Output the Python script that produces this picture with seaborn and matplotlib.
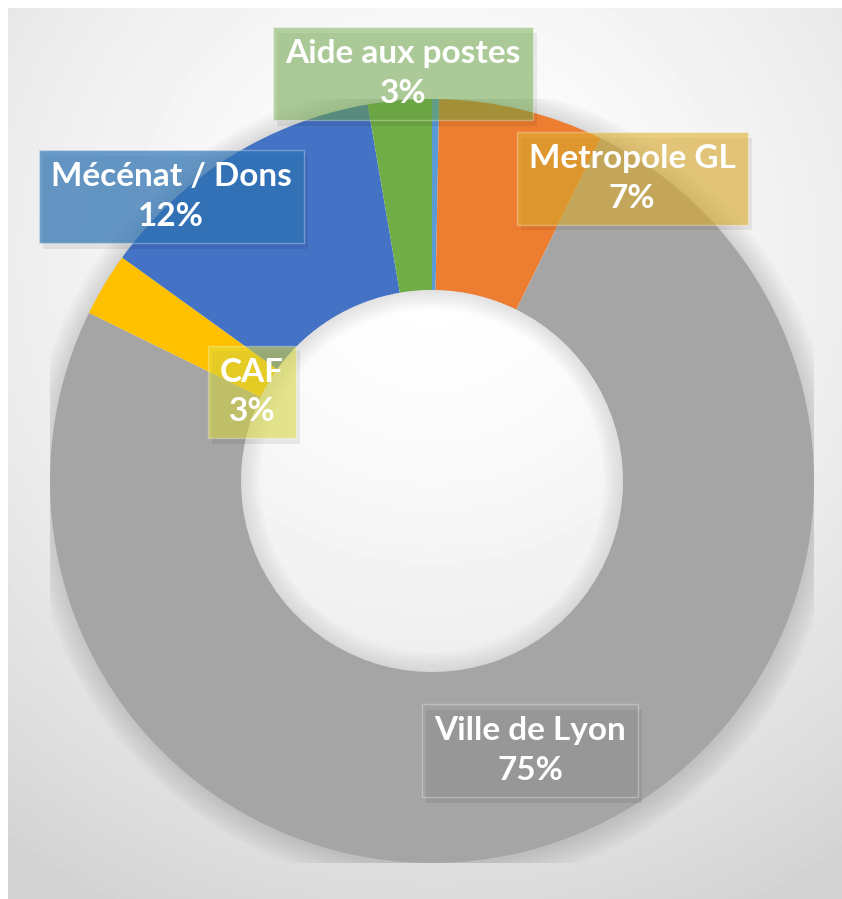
import numpy as np
import matplotlib
matplotlib.use('Agg')
import matplotlib.pyplot as plt
import matplotlib.patheffects as pe
from matplotlib.patches import Wedge
import seaborn as sns

# Data (clockwise from 12 o'clock)
categories = ['Autre', 'Metropole GL', 'Ville de Lyon', 'CAF', 'Mécénat / Dons', 'Aide aux postes']
shares = [0.3, 7.0, 75.2, 2.7, 12.4, 2.7]
shown_pct = ['', '7%', '75%', '3%', '12%', '3%']
slice_colors = ['#5B9BD5', '#ED7D31', '#A5A5A5', '#FFC000', '#4472C4', '#70AD47']

# label boxes: fill colour / alpha and centre position (pie data coords)
label_fill = {'Metropole GL': ('#E0B030', 0.6), 'Ville de Lyon': ('#8F8F8F', 0.15),
              'CAF': ('#E0E040', 0.55), 'Mécénat / Dons': ('#2E75B6', 0.7),
              'Aide aux postes': ('#70AD47', 0.5)}
label_pos = {'Metropole GL': (0.524, 0.792), 'Ville de Lyon': (0.257, -0.706),
             'CAF': (-0.471, 0.233), 'Mécénat / Dons': (-0.683, 0.744),
             'Aide aux postes': (-0.076, 1.066)}

sns.set_theme(style='white')
plt.rcParams['font.family'] = ['Lato', 'DejaVu Sans']

W, H = 842, 899
fig = plt.figure(figsize=(W / 100, H / 100), dpi=100)
fig.patch.set_facecolor('white')

# radial grey background
bg = fig.add_axes([8 / W, 0, (W - 8) / W, (H - 8) / H])
yy, xx = np.mgrid[0:H - 8, 0:W - 8]
d = np.hypot(xx - 424, yy - 250) / 720
shade = 1 - 0.17 * np.clip(d, 0, 1) ** 1.6
bg.imshow(shade, cmap='gray', vmin=0, vmax=1, aspect='auto', interpolation='bilinear')
bg.axis('off')

# donut
cx, cy, R = 432, 481, 382
ax = fig.add_axes([(cx - R) / W, (H - cy - R) / H, 2 * R / W, 2 * R / H])
ax.patch.set_alpha(0)

# soft shadow around the ring (outer halo and inside the hole)
for r in np.linspace(1.0, 1.06, 10):
    ax.add_patch(Wedge((0.004, -0.01), r, 0, 360, width=r - 0.98, color='#777777',
                       alpha=0.03, lw=0, zorder=0))
for r in np.linspace(0.5, 0.45, 8):
    ax.add_patch(Wedge((0, 0), 0.5, 0, 360, width=0.5 - r, color='#888888',
                       alpha=0.03, lw=0, zorder=3))

ax.pie(shares, colors=slice_colors, startangle=90, counterclock=False, radius=1,
       wedgeprops=dict(width=0.5, edgecolor='none', linewidth=0))
ax.set_xlim(-1, 1)
ax.set_ylim(-1, 1)
ax.set_aspect('equal')
ax.axis('off')

for name, pct in zip(categories, shown_pct):
    if not pct:
        continue
    fc, a = label_fill[name]
    x, y = label_pos[name]
    t = ax.text(x, y, f'{name}\n{pct}', ha='center', va='center', color='white',
                fontsize=24, fontweight='bold', linespacing=1.45, zorder=6,
                bbox=dict(boxstyle='square,pad=0.36', facecolor=matplotlib.colors.to_rgba(fc, a),
                          edgecolor=(1, 1, 1, 0.3), linewidth=1))
    t.get_bbox_patch().set_path_effects([
        pe.SimplePatchShadow(offset=(3, -4), shadow_rgbFace='black', alpha=0.07), pe.Normal()])

fig.savefig('out.png', dpi=100)
